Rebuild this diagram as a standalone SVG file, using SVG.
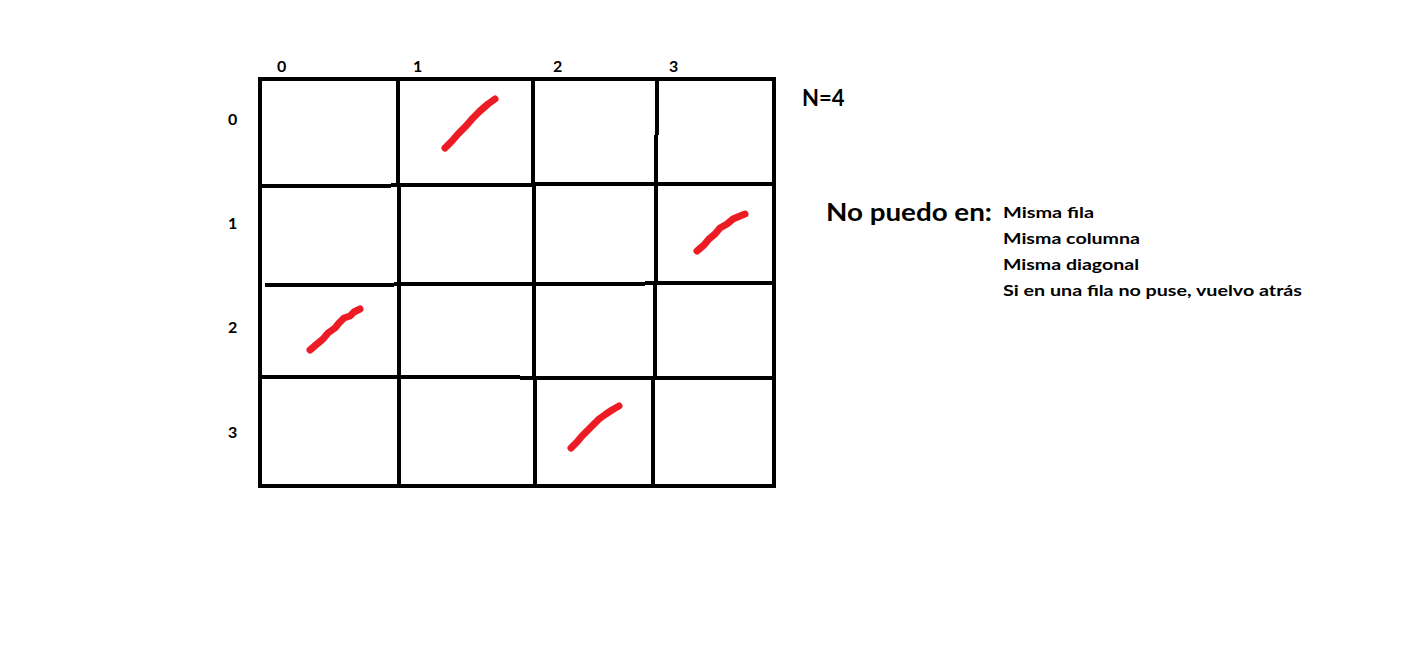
<svg xmlns="http://www.w3.org/2000/svg" width="1421" height="662" viewBox="0 0 1421 662">
<style>
.g{stroke:#000;stroke-width:4;fill:none;stroke-linecap:butt}
.q{stroke:#ED1C24;stroke-width:7;fill:none;stroke-linecap:round;stroke-linejoin:round}
.lbl{font-family:Lato,"Open Sans","Liberation Sans",sans-serif;font-weight:bold;fill:#000}
</style>
<rect width="1421" height="662" fill="#fff"/>
<g id="board">
<rect class="g" x="260" y="79" width="514" height="407"/>
<path class="g" d="M398 79V185M399 185V486M533 79V183M534 183V378M535 378V486M657 79V135M656 135V283M655 283V378M653 378V486"/>
<path class="g" d="M260 186H391M391 185H534M534 184H650M650 184H774M265 285H394M394 284H645M645 283H774M260 377H520M520 378H774"/>
</g>
<g id="queens">
<path class="q" d="M445 148L452 141L458 134L466 126L472 119L480 111L488 104L495 99"/>
<path class="q" d="M697 251L704 245L709 239L715 234L720 228L727 224L733 219L740 216L745 214"/>
<path class="q" d="M310 350L317 344L323 339L328 333L335 328L339 323L344 318L350 316L354 312L360 309"/>
<path class="q" d="M571 448L577 442L582 436L588 430L594 424L599 419L606 414L612 410L619 406"/>
</g>
<g id="col-labels" class="lbl" font-size="16">
<text x="277" y="72">0</text>
<text x="413" y="72">1</text>
<text x="553" y="72">2</text>
<text x="669" y="72">3</text>
</g>
<g id="row-labels" class="lbl" font-size="16">
<text x="228" y="125">0</text>
<text x="228" y="229">1</text>
<text x="228" y="333">2</text>
<text x="228" y="438">3</text>
</g>
<g id="n" class="lbl"><text x="802" y="106" font-size="22">N=4</text></g>
<g id="rules" class="lbl">
<text x="826" y="221" font-size="24" textLength="166" lengthAdjust="spacingAndGlyphs">No puedo en:</text>
<text x="1003" y="218" font-size="16" textLength="91" lengthAdjust="spacingAndGlyphs">Misma fila</text>
<text x="1003" y="244" font-size="16" textLength="137" lengthAdjust="spacingAndGlyphs">Misma columna</text>
<text x="1003" y="270" font-size="16" textLength="136" lengthAdjust="spacingAndGlyphs">Misma diagonal</text>
<text x="1003" y="296" font-size="16" textLength="299" lengthAdjust="spacingAndGlyphs">Si en una fila no puse, vuelvo atrás</text>
</g>
</svg>
